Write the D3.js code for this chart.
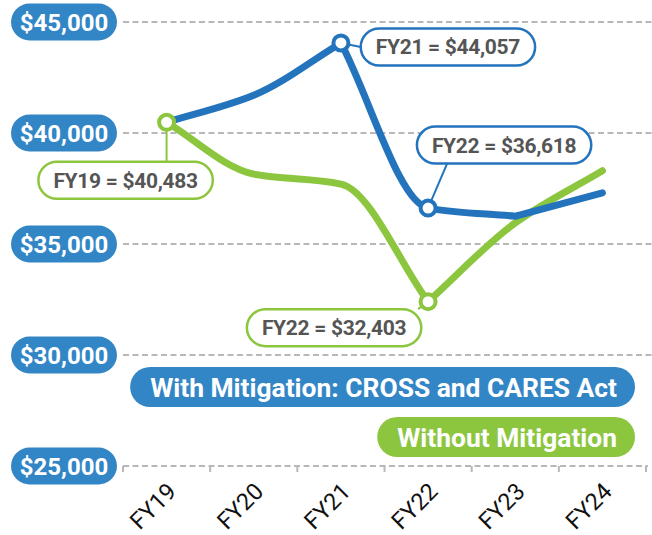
<!DOCTYPE html>
<html>
<head>
<meta charset="utf-8">
<style>
  body { margin: 0; background: #fff; }
  svg { display: block; font-family: Roboto, "Open Sans", sans-serif; }
</style>
</head>
<body>
<svg id="chart" width="652" height="535"></svg>
<script src="https://cdn.jsdelivr.net/npm/d3@7"></script>
<script>

var years = ["FY19", "FY20", "FY21", "FY22", "FY23", "FY24"];
var yTicks = [25000, 30000, 35000, 40000, 45000];

var withMitigation    = [40483, 41700, 44057, 36618, 36250, 37300];
var withoutMitigation = [40483, 38150, 37700, 32403, 35950, 38300];

var seriesNames = ["With Mitigation: CROSS and CARES Act", "Without Mitigation"];

// which points get a callout
var callouts = [
  {series: 1, year: "FY19"},
  {series: 0, year: "FY21"},
  {series: 0, year: "FY22"},
  {series: 1, year: "FY22"}
];

var blue = "#2474bd", pillBlue = "#3386c6", green = "#8cc63f", grey = "#555";

var svg = d3.select("#chart");

var x = d3.scaleBand()
    .domain(years)
    .range([123, 646]);

var y = d3.scaleLinear()
    .domain([25000, 45000])
    .range([466, 22]);

var cx = d => x(d) + x.bandwidth() / 2;

// smooth where the series keeps going the same way, sharp corner at peaks and dips
function cornerPath(pts) {
	var n = pts.length, s = [], tin = [], tout = [], i;
	for (i = 0; i < n - 1; i++)
		s[i] = (pts[i+1][1] - pts[i][1]) / (pts[i+1][0] - pts[i][0]);
	for (i = 0; i < n; i++) {
		if (i == 0) tout[i] = s[0];
		else if (i == n - 1) tin[i] = s[n-2];
		else if (s[i-1] * s[i] > 0) tin[i] = tout[i] = 2 * s[i-1] * s[i] / (s[i-1] + s[i]);
		else { tin[i] = s[i-1]; tout[i] = s[i]; }
	}
	var p = d3.path();
	p.moveTo(pts[0][0], pts[0][1]);
	for (i = 0; i < n - 1; i++) {
		var dx = (pts[i+1][0] - pts[i][0]) / 3;
		p.bezierCurveTo(pts[i][0] + dx, pts[i][1] + dx * tout[i],
			pts[i+1][0] - dx, pts[i+1][1] - dx * tin[i+1],
			pts[i+1][0], pts[i+1][1]);
	}
	return p.toString();
}

// gridlines
svg.append("g").selectAll("line")
  .data(yTicks)
  .enter().append("line")
    .attr("x1", 123)
    .attr("x2", d => d == 25000 ? 648 : 652)
    .attr("y1", d => y(d))
    .attr("y2", d => y(d))
    .attr("stroke", "#b8b8b8")
    .attr("stroke-width", 2)
    .attr("stroke-dasharray", "6,3.5");

// tick marks on the bottom axis, at band edges
var edges = years.map(d => x(d)).concat([x.range()[1]]);
svg.append("g").selectAll("line")
  .data(edges)
  .enter().append("line")
    .attr("x1", d => d)
    .attr("x2", d => d)
    .attr("y1", y(25000))
    .attr("y2", y(25000) + 6)
    .attr("stroke", "#b8b8b8")
    .attr("stroke-width", 2);

// x labels
svg.append("g").selectAll("text")
  .data(years)
  .enter().append("text")
    .attr("transform", d => "translate(" + (cx(d) + 11) + "," + 493 + ") rotate(-45)")
    .attr("text-anchor", "end")
    .attr("font-size", 23.5)
    .attr("fill", "#111")
    .text(d => d);

// y labels as pills
var yl = svg.append("g").selectAll("g")
  .data(yTicks)
  .enter().append("g")
    .attr("transform", d => "translate(64," + y(d) + ")");
yl.append("rect")
    .attr("x", -53).attr("y", -18.5)
    .attr("width", 106).attr("height", 37)
    .attr("rx", 18.5)
    .attr("fill", pillBlue);
yl.append("text")
    .attr("text-anchor", "middle")
    .attr("dy", "0.36em")
    .attr("font-size", 24)
    .attr("font-weight", "bold")
    .attr("fill", "#fff")
    .text(d => "$" + d3.format(",")(d));

// lines
var series = [withMitigation, withoutMitigation];
var colors = [blue, green];

svg.append("g").selectAll("path")
  .data([1, 0])
  .enter().append("path")
    .attr("d", k => cornerPath(series[k].map((v, i) => [cx(years[i]), y(v)])))
    .attr("fill", "none")
    .attr("stroke", k => colors[k])
    .attr("stroke-width", 7)
    .attr("stroke-linecap", "round")
    .attr("stroke-linejoin", "round");

// callouts
var offsets = {
  "1FY19": [-41, 58, "v"],
  "0FY21": [107, 4, "h"],
  "0FY22": [76, -63, "d"],
  "1FY22": [-94, 26, "d"]
};

callouts.forEach(function(c) {
  var i = years.indexOf(c.year);
  var v = series[c.series][i];
  var px = cx(c.year), py = y(v);
  var col = colors[c.series];
  var o = offsets[c.series + c.year];
  var g = svg.append("g");
  var t = g.append("text")
      .attr("x", px + o[0]).attr("y", py + o[1])
      .attr("text-anchor", "middle")
      .attr("dy", "0.36em")
      .attr("font-size", 21)
      .attr("font-weight", "bold")
      .attr("letter-spacing", -0.3)
      .attr("fill", grey)
      .text(c.year + " = $" + d3.format(",")(v));
  var w = t.node().getComputedTextLength() + 30, h = 37;
  var rx0 = px + o[0] - w / 2, ry0 = py + o[1] - h / 2;
  // connector to nearest side of pill
  var ex, ey;
  if (o[2] == "v") { ex = px; ey = ry0; }
  else if (o[2] == "h") { ex = rx0; ey = py + o[1]; }
  else if (o[1] < 0) { ex = px + 19; ey = ry0 + h; }
  else { ex = px - 10; ey = ry0; }
  g.insert("line", "text")
      .attr("x1", px).attr("y1", py)
      .attr("x2", ex).attr("y2", ey)
      .attr("stroke", col).attr("stroke-width", 2);
  g.insert("rect", "text")
      .attr("x", rx0).attr("y", ry0)
      .attr("width", w).attr("height", h)
      .attr("rx", h / 2)
      .attr("fill", "#fff")
      .attr("stroke", col)
      .attr("stroke-width", 2.5);
  g.append("circle")
      .attr("cx", px).attr("cy", py)
      .attr("r", 7.5)
      .attr("fill", "#fff")
      .attr("stroke", col)
      .attr("stroke-width", 4);
});

// legend pills, right aligned
var legendY = [387, 437];
seriesNames.forEach(function(name, i) {
  var g = svg.append("g");
  var t = g.append("text")
      .attr("x", 617).attr("y", legendY[i])
      .attr("text-anchor", "end")
      .attr("dy", "0.36em")
      .attr("font-size", 26.4)
      .attr("font-weight", "bold")
      .attr("fill", "#fff")
      .text(name);
  var w = t.node().getComputedTextLength();
  g.insert("rect", "text")
      .attr("x", 617 - w - 20).attr("y", legendY[i] - 20)
      .attr("width", w + 38).attr("height", 40)
      .attr("rx", 20)
      .attr("fill", i == 0 ? pillBlue : green);
});

</script>
</body>
</html>
